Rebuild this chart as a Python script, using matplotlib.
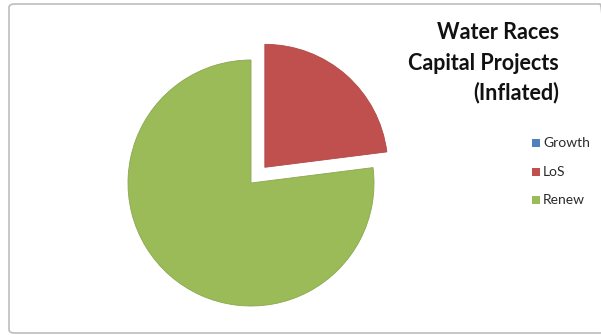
import matplotlib
matplotlib.use("Agg")
import matplotlib.pyplot as plt
from matplotlib.patches import FancyBboxPatch

labels = ["Growth", "LoS", "Renew"]
values = [0, 23, 77]
colors = ["#4F81BD", "#C0504D", "#9BBB59"]
explode = [0, 0.17, 0]
title_lines = ["Water Races", "Capital Projects", "(Inflated)"]

W, H = 601, 335
fig = plt.figure(figsize=(W / 100, H / 100), dpi=100)
fig.patch.set_facecolor("white")

# chart frame
frame = FancyBboxPatch((9 / W, 2 / H), (W - 9 + 5) / W, (H - 6) / H,
                       boxstyle="round,pad=0,rounding_size=0.01",
                       transform=fig.transFigure, facecolor="none",
                       edgecolor="#BDBDBD", linewidth=1.2, zorder=0)
fig.patches.append(frame)

# pie axes: centre ~ (251, 183) px, radius ~ 123 px
cx, cy, r = 251, 183, 123
ax = fig.add_axes([(cx - r) / W, (H - cy - r) / H, 2 * r / W, 2 * r / H])
wedges, _ = ax.pie(values, colors=colors, explode=explode, startangle=90,
                   counterclock=False,
                   wedgeprops=dict(linewidth=0.6, edgecolor="none"))
for w in wedges:
    w.set_clip_on(False)
wedges[2].set_edgecolor("#8aa84f")
wedges[1].set_edgecolor("#b04946")
ax.set_aspect("auto")
ax.set_xlim(-1, 1)
ax.set_ylim(-1, 1)
ax.axis("off")

# title, right aligned
ys = [39, 70, 99]
for t, y in zip(title_lines, ys):
    fig.text(559 / W, 1 - y / H, t, ha="right", va="baseline",
             fontsize=15.5, fontweight="bold", family="Lato", color="#111111")

# legend
leg_y = [143, 172, 200]
for lab, col, y in zip(labels, colors, leg_y):
    fig.patches.append(plt.Rectangle((532 / W, 1 - (y + 4) / H), 8 / W, 8 / H,
                                     transform=fig.transFigure, facecolor=col,
                                     edgecolor="none"))
    fig.text(543 / W, 1 - y / H, lab, ha="left", va="center",
             fontsize=10, family="Lato", color="#2b2b2b")

fig.savefig("out.png", dpi=100, facecolor="white")
